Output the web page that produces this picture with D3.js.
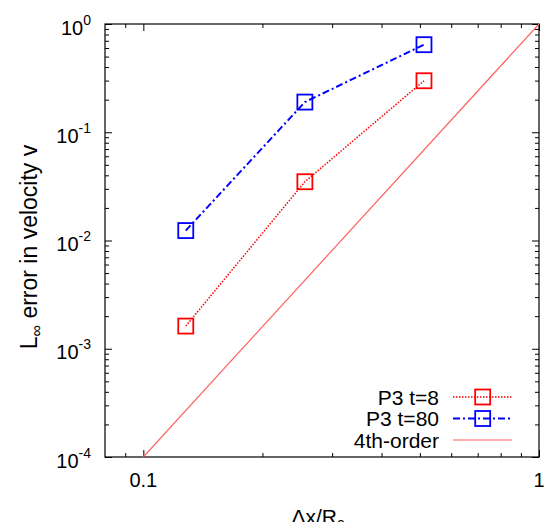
<!DOCTYPE html>
<html>
<head>
<meta charset="utf-8">
<script src="https://cdn.jsdelivr.net/npm/d3@7"></script>
<style>
  html, body { margin: 0; padding: 0; background: #fff; }
  svg { display: block; font-family: "Liberation Sans", Arial, Helvetica, sans-serif; }
</style>
</head>
<body>
<div id="chart"></div>
<script>
// data
const dx = [0.128, 0.256, 0.512]
const errT8 = [0.00162, 0.0349, 0.299]
const errT80 = [0.01235, 0.190, 0.644]
const fourthX = [0.1, 1]
const fourthY = [0.0001, 1]
const xMajor = [0.1, 1]
const xMinor = [0.09, 0.2, 0.3, 0.4, 0.5, 0.6, 0.7, 0.8, 0.9]
const yMajor = [1e-4, 1e-3, 1e-2, 1e-1, 1]
const yExp = ['-4', '-3', '-2', '-1', '0']
const legendNames = ['P3 t=8', 'P3 t=80', '4th-order']

const W = 546, H = 522
const pL = 105, pR = 539, pT = 24, pB = 457

const svg = d3.select('#chart').append('svg')
  .attr('width', W).attr('height', H)

const x = d3.scaleLog().domain([0.08, 1]).range([pL, pR])
const y = d3.scaleLog().domain([1e-4, 1]).range([pB, pT])

const yMinor = []
yMajor.slice(0, -1).forEach(d => { for (let k = 2; k <= 9; k++) yMinor.push(d * k) })

svg.append('defs').append('clipPath').attr('id', 'plot')
  .append('rect').attr('x', pL).attr('y', pT).attr('width', pR - pL).attr('height', pB - pT)

// ticks (inward, mirrored)
function ticks(axis, vals, size, tr) {
  svg.append('g').attr('transform', tr)
    .call(axis.tickValues(vals).tickSize(size).tickFormat(''))
    .call(g => g.select('.domain').remove())
    .selectAll('line').attr('stroke', '#000').attr('stroke-width', 1)
}
ticks(d3.axisBottom(x), xMajor, -7, `translate(0,${pB})`)
ticks(d3.axisBottom(x), xMinor, -4, `translate(0,${pB})`)
ticks(d3.axisTop(x), xMajor, -7, `translate(0,${pT})`)
ticks(d3.axisTop(x), xMinor, -4, `translate(0,${pT})`)
ticks(d3.axisLeft(y), yMajor, -7, `translate(${pL},0)`)
ticks(d3.axisLeft(y), yMinor, -4, `translate(${pL},0)`)
ticks(d3.axisRight(y), yMajor, -7, `translate(${pR},0)`)
ticks(d3.axisRight(y), yMinor, -4, `translate(${pR},0)`)

svg.append('rect')
  .attr('x', pL).attr('y', pT).attr('width', pR - pL).attr('height', pB - pT)
  .attr('fill', 'none').attr('stroke', '#000').attr('stroke-width', 1.2)

// tick labels
xMajor.forEach(v => {
  svg.append('text').attr('x', x(v)).attr('y', pB + 30)
    .attr('text-anchor', 'middle').attr('font-size', 20)
    .text(v === 1 ? '1' : '0.1')
})
yMajor.forEach((v, i) => {
  const t = svg.append('text').attr('x', 91).attr('y', y(v) + 10.5)
    .attr('text-anchor', 'end').attr('font-size', 20)
  t.append('tspan').text('10')
  t.append('tspan').attr('font-size', 14).attr('dy', -10).text(yExp[i])
})

// axis titles
const xl = svg.append('text').attr('x', 318).attr('y', 524)
  .attr('text-anchor', 'middle').attr('font-size', 21)
xl.append('tspan').text('Δx/R')
xl.append('tspan').attr('font-size', 15).attr('dy', 4).text('c')

const yl = svg.append('text')
  .attr('transform', `translate(37,247) rotate(-90)`)
  .attr('text-anchor', 'middle').attr('font-size', 23)
yl.append('tspan').text('L')
yl.append('tspan').attr('font-size', 16).attr('dy', 5).text('∞')
yl.append('tspan').attr('dy', -5).text(' error in velocity v')

// series
const plot = svg.append('g').attr('clip-path', 'url(#plot)')
const line = d3.line().x(d => x(d[0])).y(d => y(d[1]))

const series = [
  { vals: errT8, color: '#ff0000', dash: '1.5,1.5', width: 1.5 },
  { vals: errT80, color: '#0000ff', dash: '7,3,2,3', width: 2 }
]

plot.append('path')
  .attr('d', line(d3.zip(fourthX, fourthY)))
  .attr('fill', 'none').attr('stroke', '#ff6060').attr('stroke-width', 1.2)

series.forEach(s => {
  const pts = d3.zip(dx, s.vals)
  plot.append('path').attr('d', line(pts))
    .attr('fill', 'none').attr('stroke', s.color)
    .attr('stroke-width', s.width).attr('stroke-dasharray', s.dash)
  plot.selectAll(null).data(pts).join('rect')
    .attr('x', d => x(d[0]) - 7.5).attr('y', d => y(d[1]) - 7.5)
    .attr('width', 15).attr('height', 15)
    .attr('fill', 'none').attr('stroke', s.color).attr('stroke-width', 1.8)
})

// legend
const legY = [397, 418.5, 440]
legendNames.forEach((name, i) => {
  svg.append('text').attr('x', 439).attr('y', legY[i] + 7.5)
    .attr('text-anchor', 'end').attr('font-size', 21).text(name)
  const ln = svg.append('line').attr('x1', 453).attr('x2', 512)
    .attr('y1', legY[i]).attr('y2', legY[i])
  if (i < 2) {
    const s = series[i]
    ln.attr('stroke', s.color).attr('stroke-width', s.width).attr('stroke-dasharray', s.dash)
    svg.append('rect').attr('x', 482.7 - 7.5).attr('y', legY[i] - 7.5)
      .attr('width', 15).attr('height', 15)
      .attr('fill', 'none').attr('stroke', s.color).attr('stroke-width', 1.8)
  } else {
    ln.attr('stroke', '#ff9090').attr('stroke-width', 1.5)
  }
})
</script>
</body>
</html>
